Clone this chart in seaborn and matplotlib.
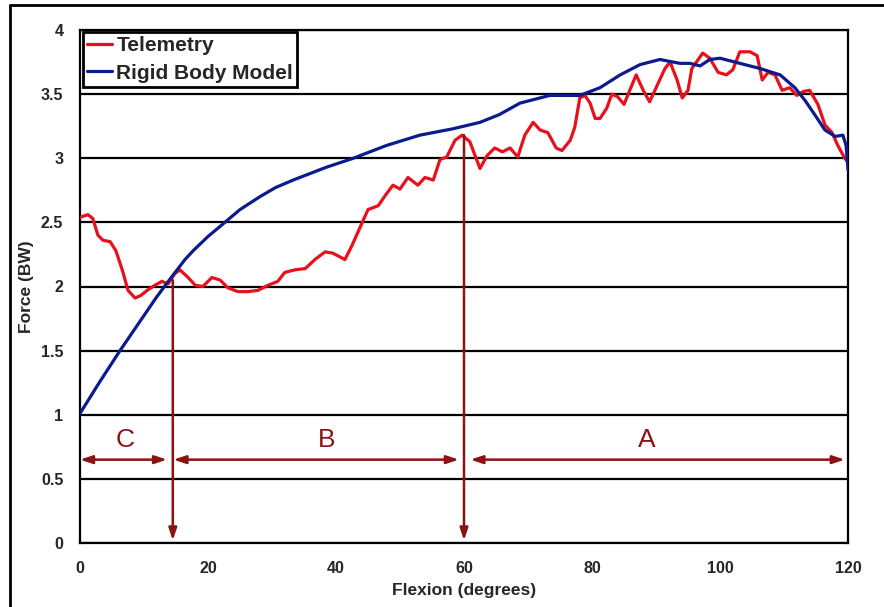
import matplotlib
matplotlib.use("Agg")
import matplotlib.pyplot as plt
import seaborn as sns
import pandas as pd
from matplotlib.lines import Line2D

# ---- data ----
tele_x = [0, 1.25, 2, 2.8, 3.6, 4.7, 5.6, 6.6, 7.5, 8.6, 9.5, 10.5, 11.7, 12.8, 13.75,
          14.8, 15.6, 16.9, 18, 19.2, 20.6, 21.9, 23.1, 24.7, 26.25, 27.8, 29.4, 30.9,
          32, 33.6, 35.2, 36.7, 38.3, 39.5, 41.4, 42.5, 43.75, 45, 46.6, 47.7, 48.9, 50,
          51.25, 52.8, 53.9, 55.2, 56.25, 57.3, 58.6, 59.7, 60.9, 62.5, 63.6, 64.8, 66,
          67.2, 68.4, 69.5, 70.8, 71.9, 73.1, 74.4, 75.3, 76.6, 77.3, 78.1, 78.9, 79.7,
          80.5, 81.25, 82.3, 83.1, 84, 85, 85.9, 86.9, 88, 89, 90.2, 91.4, 92.2, 93.3,
          94.1, 95, 95.6, 96.6, 97.3, 98.4, 99.7, 101, 102, 103.1, 104.7, 105.8, 106.6,
          107.5, 108.6, 109.7, 110.9, 112, 113, 114, 115.3, 116.4, 117.5, 118.4, 119.5, 120]
tele_y = [2.54, 2.56, 2.53, 2.40, 2.36, 2.35, 2.28, 2.13, 1.97, 1.91, 1.93, 1.97, 2.01, 2.04, 2.02,
          2.10, 2.13, 2.07, 2.01, 2.00, 2.07, 2.05, 1.99, 1.96, 1.96, 1.97, 2.01, 2.04,
          2.11, 2.13, 2.14, 2.21, 2.27, 2.26, 2.21, 2.32, 2.46, 2.60, 2.63, 2.71, 2.79, 2.76,
          2.85, 2.79, 2.85, 2.83, 2.99, 3.01, 3.14, 3.18, 3.13, 2.92, 3.02, 3.08, 3.05,
          3.08, 3.01, 3.18, 3.28, 3.22, 3.20, 3.08, 3.06, 3.14, 3.24, 3.47, 3.49, 3.43,
          3.31, 3.31, 3.39, 3.50, 3.48, 3.42, 3.53, 3.65, 3.53, 3.44, 3.57, 3.70, 3.75, 3.61,
          3.47, 3.53, 3.70, 3.77, 3.82, 3.78, 3.67, 3.65, 3.69, 3.83, 3.83, 3.80, 3.61,
          3.67, 3.65, 3.53, 3.55, 3.49, 3.52, 3.53, 3.42, 3.26, 3.20, 3.10, 3.00, 2.97]

model_x = [0, 3, 6.25, 9.4, 12, 14.1, 16.4, 17.7, 20, 22.4, 25, 28.1, 30.5, 33.3, 38.5,
           42.7, 47.9, 53.1, 58.3, 62.5, 65.5, 68.75, 73.4, 78.1, 81.25, 84.4, 87.5, 90.6,
           93.75, 95.3, 96.9, 98.4, 100, 103.1, 106.25, 109.4, 111.7, 113.3, 114.8, 116.4,
           118, 119.2, 119.7, 120]
model_y = [1.01, 1.25, 1.50, 1.73, 1.92, 2.06, 2.21, 2.28, 2.39, 2.49, 2.60, 2.70, 2.77, 2.83, 2.93,
           3.00, 3.10, 3.18, 3.23, 3.28, 3.34, 3.43, 3.49, 3.49, 3.55, 3.65, 3.73, 3.77,
           3.74, 3.74, 3.72, 3.77, 3.78, 3.74, 3.70, 3.65, 3.55, 3.45, 3.34, 3.22,
           3.17, 3.18, 3.10, 2.91]

x_ticks = [0, 20, 40, 60, 80, 100, 120]
y_ticks = [0, 0.5, 1, 1.5, 2, 2.5, 3, 3.5, 4]
y_tick_labels = ["0", "0.5", "1", "1.5", "2", "2.5", "3", "3.5", "4"]

zone_labels = ["C", "B", "A"]
zone_spans = [(0, 13.6), (14.6, 59.2), (61, 119.5)]
zone_label_x = [7, 38.5, 88.5]
divider_x = [14.5, 60]
divider_top = [2.05, 3.18]

# ---- plot ----
sns.set_style("white")
plt.rcParams['font.family'] = ['Liberation Sans', 'DejaVu Sans']

fig = plt.figure(figsize=(8.84, 6.07), dpi=100)
ax = fig.add_axes([80/884, 64/607, 768/884, 513/607])

tele_df = pd.DataFrame({"x": tele_x, "y": tele_y})
model_df = pd.DataFrame({"x": model_x, "y": model_y})

for yv in y_ticks:
    ax.axhline(yv, color="black", lw=1.6, zorder=1)

sns.lineplot(data=tele_df, x="x", y="y", ax=ax, color="#e8101a", lw=2.3,
             label="Telemetry", zorder=3, sort=False)
sns.lineplot(data=model_df, x="x", y="y", ax=ax, color="#0b1a8c", lw=2.3,
             label="Rigid Body Model", zorder=4, sort=False)

arrow_col = "#8b1313"
for xd, yt in zip(divider_x, divider_top):
    ax.annotate("", xy=(xd, 0.02), xytext=(xd, yt),
                arrowprops=dict(arrowstyle="-|>,head_length=0.6,head_width=0.2",
                                color=arrow_col, lw=1.8,
                                mutation_scale=12, shrinkA=0, shrinkB=0), zorder=5)
for (x0, x1), lab, lx in zip(zone_spans, zone_labels, zone_label_x):
    ax.annotate("", xy=(x1, 0.65), xytext=(x0, 0.65),
                arrowprops=dict(arrowstyle="<|-|>,head_length=0.6,head_width=0.2",
                                color=arrow_col, lw=1.8,
                                mutation_scale=12, shrinkA=0, shrinkB=0), zorder=5)
    ax.text(lx, 0.80, lab, color=arrow_col, fontsize=19, ha="center", va="center")

ax.set_xlim(0, 120)
ax.set_ylim(0, 4)
ax.set_xticks(x_ticks)
ax.set_yticks(y_ticks)
ax.set_yticklabels(y_tick_labels)
ax.tick_params(axis="both", direction="out", length=5, width=1.5, color="black",
               labelsize=11.5)
ax.tick_params(axis="x", pad=8)
ax.tick_params(axis="y", pad=7)
for lbl in ax.get_xticklabels() + ax.get_yticklabels():
    lbl.set_fontweight("bold")
ax.set_xlabel("Flexion (degrees)", fontsize=12.5, fontweight="bold", labelpad=5)
ax.set_ylabel("Force (BW)", fontsize=12.5, fontweight="bold", labelpad=5)
for sp in ax.spines.values():
    sp.set_color("black")
    sp.set_linewidth(1.6)
    sp.set_visible(True)

leg = ax.legend(loc="upper left", bbox_to_anchor=(0.004, 0.996), frameon=True, fancybox=False,
                fontsize=15, handlelength=1.2, handletextpad=0.2, borderpad=0.2,
                labelspacing=0.4, borderaxespad=0.0)
leg.get_frame().set_edgecolor("black")
leg.get_frame().set_linewidth(2.0)
leg.get_frame().set_alpha(1.0)
for t in leg.get_texts():
    t.set_fontweight("bold")

# outer figure border (left and top edges visible)
fig.add_artist(Line2D([10/884, 10/884], [0, 1 - 5/607], color="black", lw=2.0))
fig.add_artist(Line2D([10/884, 1], [1 - 5/607, 1 - 5/607], color="black", lw=2.0))

fig.savefig("out.png", dpi=100)
